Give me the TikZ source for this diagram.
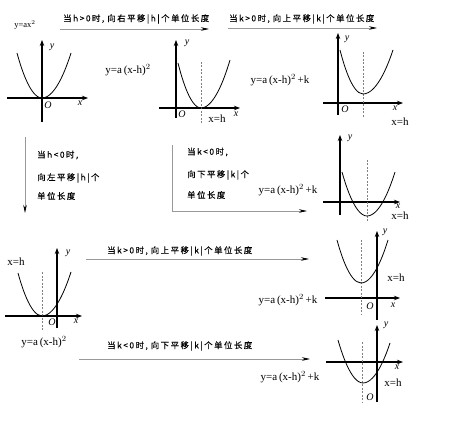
\documentclass[tikz,border=0pt]{standalone}
\usepackage{fontspec}
\setmainfont{Liberation Serif}
\newfontfamily\cjk[LetterSpace=18,FakeBold=0.15]{Noto Sans CJK SC}
\usetikzlibrary{arrows.meta}
\newcommand\cm{,\hspace{3pt}}
\tikzset{
  axis/.style={line width=1.1pt,-{Stealth[length=6pt,width=4.5pt]}},
  curve/.style={line width=0.8pt},
  sym/.style={gray,line width=0.5pt,dash pattern=on 2pt off 1.5pt},
  conn/.style={gray!80,line width=0.6pt,-{Stealth[length=8pt,width=3.5pt,black]}},
  lab/.style={inner sep=0pt,font=\fontsize{10}{11}\selectfont\itshape},
  eq/.style={inner sep=0pt,font=\fontsize{11}{12}\selectfont},
  note/.style={inner sep=0pt,anchor=west,font=\fontsize{8.4}{10}\cjk},
}
\begin{document}
\begin{tikzpicture}[x=1pt,y=-1pt]
\useasboundingbox[fill=white] (0,0) rectangle (474,422);

% ---------- Graph 1 ----------
\draw[axis] (42,122) -- (42,40);
\draw[axis] (7,98) -- (88,98);
\draw[curve] (17,53) parabola bend (42,98) (71,53);
\node[lab] (g1y) at (52,47) {y};
\node[lab] (g1o) at (48,105) {O};
\node[lab] (g1x) at (80,103) {x};
\node[eq,font=\fontsize{8.5}{9}\selectfont] (e1) at (25,25) {y=ax$^2$};

% ---------- Graph 2 ----------
\draw[axis] (176,118) -- (176,40);
\draw[axis] (159,108) -- (240,108);
\draw[sym] (201,62) -- (201,123);
\draw[curve] (178,63) parabola bend (201,108) (230,60);
\node[lab] (g2y) at (187,43) {y};
\node[lab] (g2o) at (182,114) {O};
\node[lab] (g2x) at (236,114) {x};
\node[eq] (g2h) at (217,119) {x=h};
\node[eq] (e2) at (128,70) {y=a\,(x-h)$^2$};

% ---------- Graph 3 ----------
\draw[axis] (338,115) -- (338,33);
\draw[axis] (323,103) -- (403,103);
\draw[sym] (363,52) -- (363,118);
\draw[curve] (340,50) parabola bend (363,94) (393,50);
\node[lab] (g3y) at (347,39) {y};
\node[lab] (g3o) at (345,109) {O};
\node[lab] (g3x) at (395,108) {x};
\node[eq] (g3h) at (400,122) {x=h};
\node[eq] (e3) at (280,80) {y=a\,(x-h)$^2$\,+k};

% ---------- Graph 4 ----------
\draw[axis] (340,215) -- (340,135);
\draw[axis] (323,202) -- (400,202);
\draw[sym] (367,160) -- (367,222);
\draw[curve] (342,172) parabola bend (367,216) (395,172);
\node[lab] (g4y) at (350,138) {y};
\node[lab] (g4x) at (398,206) {x};
\node[eq] (g4h) at (400,216) {x=h};
\node[eq] (e4) at (288,190) {y=a\,(x-h)$^2$\,+k};

% ---------- Graph 5 ----------
\draw[axis] (57,328) -- (57,248);
\draw[axis] (5,316) -- (82,316);
\draw[sym] (42,272) -- (42,330);
\draw[curve] (18,273) parabola bend (42,316) (71,272);
\node[lab] (g5y) at (68,253) {y};
\node[lab] (g5o) at (52,322) {O};
\node[lab] (g5x) at (76,321) {x};
\node[eq] (g5h) at (16,262) {x=h};
\node[eq] (e5) at (44,342) {y=a\,(x-h)$^2$};

% ---------- Graph 6 ----------
\draw[axis] (377,320) -- (377,231);
\draw[axis] (325,298) -- (400,298);
\draw[sym] (361,240) -- (361,315);
\draw[curve] (337,240) parabola bend (361,283) (388,240);
\node[lab] (g6y) at (385,232) {y};
\node[lab] (g6o) at (370,306) {O};
\node[lab] (g6x) at (393,305) {x};
\node[eq] (g6h) at (396,278) {x=h};
\node[eq] (e6) at (288,300) {y=a\,(x-h)$^2$\,+k};

% ---------- Graph 7 ----------
\draw[axis] (377,402) -- (377,325);
\draw[axis] (326,362) -- (403,362);
\draw[sym] (362,342) -- (362,402);
\draw[curve] (338,340) parabola bend (363,383) (390,343);
\node[lab] (g7y) at (386,325) {y};
\node[lab] (g7o) at (370,397) {O};
\node[lab] (g7x) at (397,367) {x};
\node[eq] (g7h) at (393,383) {x=h};
\node[eq] (e7) at (290,377) {y=a\,(x-h)$^2$\,+k};

% ---------- connectors ----------
\coordinate (a1s) at (60,29);  \coordinate (a1e) at (209,29);
\coordinate (a2s) at (228,28); \coordinate (a2e) at (377,28);
\coordinate (a3s) at (25,137); \coordinate (a3e) at (25,213);
\coordinate (a4s) at (172,145); \coordinate (a4c) at (172,211); \coordinate (a4e) at (307,211);
\coordinate (a5s) at (86,259); \coordinate (a5e) at (309,259);
\coordinate (a6s) at (79,359); \coordinate (a6e) at (310,359);
\draw[conn] (a1s) -- (a1e);
\draw[conn] (a2s) -- (a2e);
\draw[conn] (a3s) -- (a3e);
\draw[conn] (a4s) -- (a4c) -- (a4e);
\draw[conn] (a5s) -- (a5e);
\draw[conn] (a6s) -- (a6e);

% ---------- notes ----------
\node[note] (t1) at (63,19) {当h>0时\cm 向右平移|h|个单位长度};
\node[note] (t2) at (229,19) {当k>0时\cm 向上平移|k|个单位长度};
\node[note] (t3a) at (37,155) {当h<0时\cm};
\node[note] (t3b) at (37,178) {向左平移|h|个};
\node[note] (t3c) at (37,196) {单位长度};
\node[note] (t4a) at (187,152) {当k<0时\cm};
\node[note] (t4b) at (187,175) {向下平移|k|个};
\node[note] (t4c) at (187,195) {单位长度};
\node[note] (t5) at (107,251) {当k>0时\cm 向上平移|k|个单位长度};
\node[note] (t6) at (107,346) {当k<0时\cm 向下平移|k|个单位长度};
\end{tikzpicture}
\end{document}
